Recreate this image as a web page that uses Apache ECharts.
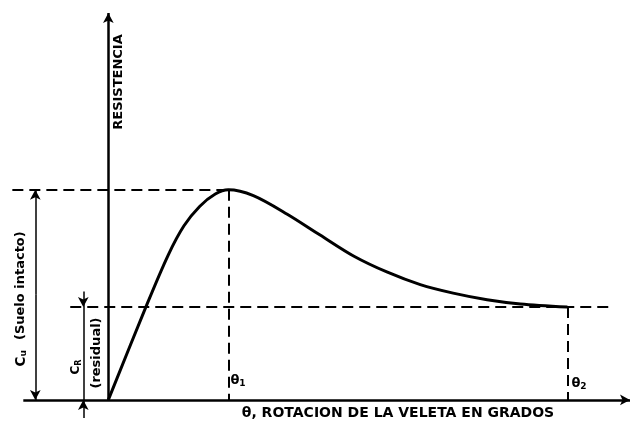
<!DOCTYPE html>
<html>
<head>
<meta charset="utf-8">
<script src="https://cdn.jsdelivr.net/npm/echarts@6/dist/echarts.min.js"></script>
<style>html,body{margin:0;background:#fff}#chart{width:640px;height:428px}</style>
</head>
<body>
<div id="chart"></div>
<script>
// curva resistencia - rotacion (unidades arbitrarias)
var curveX = [0, 7.5, 11.5, 14.5, 17.5, 20.5, 23.0, 27.8, 34.3, 40.6, 47.0, 53.5, 59.8, 66.1, 72.6, 79.0, 88.0];
var curveY = [0, 25.0, 37.5, 45.0, 50.0, 53.2, 54.3, 52.8, 48.0, 42.6, 37.2, 33.0, 29.8, 27.6, 25.9, 24.8, 24.0];
var theta1 = 23.0, theta2 = 88.0;   // rotaciones
var cuPeak = 54.3, crRes = 24.0;    // resistencia pico y residual
var xRange = [-20, 100], yRange = [-7, 100];

var font = '"DejaVu Sans", sans-serif';
var ink = '#000';

var curve = [];
for (var i = 0; i < curveX.length; i++) curve.push([curveX[i], curveY[i]]);

function seg(a, b, style, s1, s2) {
	return [{coord: a, symbol: s1 || 'none'}, {coord: b, symbol: s2 || 'none', lineStyle: style}];
}
var dashed = {type: [11, 6], width: 2, color: ink};
var solid = {type: 'solid', width: 1.5, color: ink};
var axisStyle = {type: 'solid', width: 2.5, color: ink};

var myChart = echarts.init(document.getElementById('chart'));
myChart.setOption({
	animation: false,
	grid: {left: 4, right: 10, top: 13, bottom: 1},
	xAxis: {type: 'value', min: xRange[0], max: xRange[1], show: false},
	yAxis: {type: 'value', min: yRange[0], max: yRange[1], show: false},
	series: [{
		type: 'line',
		data: curve,
		smooth: 0.3,
		symbol: 'none',
		clip: false,
		lineStyle: {color: ink, width: 3},
		markLine: {
			silent: true,
			animation: false,
			symbolSize: [8, 10],
			label: {show: false},
			emphasis: {disabled: true},
			data: [
				// ejes
				seg([-16.3, 0], [100, 0], axisStyle, 'none', 'arrow'),
				seg([0, 0], [0, 100], axisStyle, 'none', 'arrow'),
				// guias
				seg([-18.4, cuPeak], [theta1, cuPeak], dashed),
				seg([-7.3, crRes], [96.2, crRes], dashed),
				seg([theta1, cuPeak], [theta1, 0], dashed),
				seg([theta2, crRes], [theta2, 0], dashed),
				// cotas
				seg([-14, cuPeak / 2], [-14, cuPeak], solid, 'none', 'arrow'),
				seg([-14, cuPeak / 2], [-14, 0], solid, 'none', 'arrow'),
				seg([-4.8, crRes + 4], [-4.8, crRes], solid, 'none', 'arrow'),
				seg([-4.8, crRes], [-4.8, 0], solid),
				seg([-4.8, -4.7], [-4.8, 0], solid, 'none', 'arrow')
			]
		}
	}],
	graphic: [
		{type: 'text', x: 119, y: 82, rotation: Math.PI / 2,
			style: {text: 'RESISTENCIA', font: 'bold 13px ' + font, fill: ink, align: 'center', verticalAlign: 'middle'}},
		{type: 'text', x: 398, y: 413,
			style: {text: 'θ, ROTACION DE LA VELETA EN GRADOS', font: 'bold 14px ' + font, fill: ink, align: 'center', verticalAlign: 'middle'}},
		{type: 'text', x: 238, y: 381,
			style: {text: '{a|θ}{b|1}', fill: ink, align: 'center', verticalAlign: 'middle',
				rich: {a: {font: 'bold 13px ' + font}, b: {font: 'bold 9px ' + font, padding: [6, 0, 0, 0]}}}},
		{type: 'text', x: 579, y: 384,
			style: {text: '{a|θ}{b|2}', fill: ink, align: 'center', verticalAlign: 'middle',
				rich: {a: {font: 'bold 13px ' + font}, b: {font: 'bold 9px ' + font, padding: [6, 0, 0, 0]}}}},
		{type: 'text', x: 21, y: 299, rotation: Math.PI / 2,
			style: {text: '{a|C}{b|u}   {c|(Suelo intacto)}', fill: ink, align: 'center', verticalAlign: 'middle',
				rich: {a: {font: 'bold 14px ' + font}, b: {font: 'bold 9px ' + font, padding: [6, 0, 0, 0]}, c: {font: 'bold 13px ' + font}}}},
		{type: 'text', x: 76, y: 367, rotation: Math.PI / 2,
			style: {text: '{a|C}{b|R}', fill: ink, align: 'center', verticalAlign: 'middle',
				rich: {a: {font: 'bold 12px ' + font}, b: {font: 'bold 8px ' + font, padding: [5, 0, 0, 0]}}}},
		{type: 'text', x: 97, y: 353, rotation: Math.PI / 2,
			style: {text: '(residual)', font: 'bold 13px ' + font, fill: ink, align: 'center', verticalAlign: 'middle'}}
	]
});
</script>
</body>
</html>
